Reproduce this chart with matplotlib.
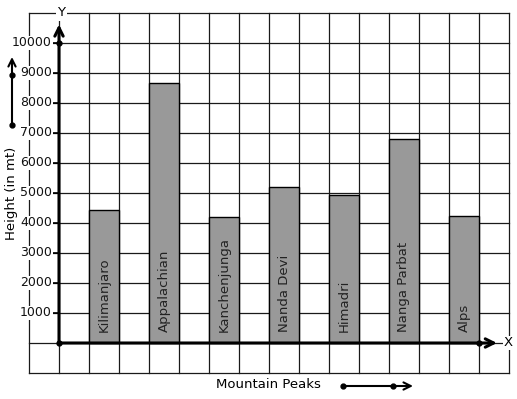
import matplotlib
matplotlib.use("Agg")
import matplotlib.pyplot as plt

peaks = ["Kilimanjaro", "Appalachian", "Kanchenjunga", "Nanda Devi",
         "Himadri", "Nanga Parbat", "Alps"]
heights = [4430, 8660, 4200, 5190, 4920, 6790, 4220]
bar_pos = [1.5, 3.5, 5.5, 7.5, 9.5, 11.5, 13.5]
y_ticks = [1000, 2000, 3000, 4000, 5000, 6000, 7000, 8000, 9000, 10000]

W, H = 517, 399
fig = plt.figure(figsize=(W / 100, H / 100), dpi=100)
ax = fig.add_axes([29 / W, (H - 373) / H, 480 / W, 360 / H])
ax.set_xlim(-1, 15)
ax.set_ylim(-1000, 11000)

# graph paper grid
for gx in range(-1, 16):
    ax.axvline(gx, color="#1a1a1a", lw=0.9, zorder=1, clip_on=False)
for gy in range(-1000, 11001, 1000):
    ax.axhline(gy, color="#1a1a1a", lw=0.9, zorder=1, clip_on=False)
ax.set_xticks([])
ax.set_yticks([])
for s in ax.spines.values():
    s.set_visible(False)

ax.bar(bar_pos, heights, width=1.0, color="#999999", edgecolor="black",
       linewidth=1.0, zorder=2)
for x, name in zip(bar_pos, peaks):
    ax.text(x, 370, name, rotation=90, ha="center", va="bottom",
            fontsize=9.5, color="#222222", zorder=3)

# axes with arrows
ax.annotate("", xy=(0, 10620), xytext=(0, 0),
            arrowprops=dict(arrowstyle="->", lw=2.2, color="black",
                            mutation_scale=15, shrinkA=0, shrinkB=0), zorder=4)
ax.annotate("", xy=(14.6, 0), xytext=(0, 0),
            arrowprops=dict(arrowstyle="->", lw=2.2, color="black",
                            mutation_scale=15, shrinkA=0, shrinkB=0), zorder=4)
ax.plot([0, 0, 14], [0, 10000, 0], "o", color="black", ms=3.5, zorder=5,
        clip_on=False)

for t in y_ticks:
    ax.plot([-0.22, 0], [t, t], color="black", lw=1.2, zorder=4, clip_on=False)
    ax.text(-0.24, t, str(t), ha="right", va="center", fontsize=9,
            color="#111111", zorder=4, clip_on=False,
            bbox=dict(facecolor="white", edgecolor="none", pad=0.5))

ax.text(0.07, 11000, "Y", ha="center", va="center", fontsize=9.5, zorder=4,
        clip_on=False, bbox=dict(facecolor="white", edgecolor="none", pad=1))
ax.text(14.97, 0, "X", ha="center", va="center", fontsize=9.5, zorder=4,
        clip_on=False, bbox=dict(facecolor="white", edgecolor="none", pad=0.3))

# axis titles with little arrows
fig.text(268 / W, 1 - 385 / H, "Mountain Peaks", ha="center", va="center",
         fontsize=9.5)
fig.text(12 / W, 1 - 193 / H, "Height (in mt)", ha="center", va="center",
         fontsize=9.5, rotation=90)

fig.add_artist(plt.Line2D([343 / W, 393 / W], [1 - 386 / H, 1 - 386 / H],
                          color="black", lw=1.5, marker="o", ms=3.5))
fig.add_artist(plt.Line2D([12 / W, 12 / W], [1 - 125 / H, 1 - 75 / H],
                          color="black", lw=1.5, marker="o", ms=3.5))
ax.annotate("", xy=(413, H - 386), xytext=(393, H - 386),
            xycoords="figure pixels", textcoords="figure pixels",
            arrowprops=dict(arrowstyle="->", lw=1.5, color="black",
                            mutation_scale=13, shrinkA=0, shrinkB=0))
ax.annotate("", xy=(12, H - 57), xytext=(12, H - 75),
            xycoords="figure pixels", textcoords="figure pixels",
            arrowprops=dict(arrowstyle="->", lw=1.5, color="black",
                            mutation_scale=13, shrinkA=0, shrinkB=0))

fig.savefig("out.png", dpi=100)
